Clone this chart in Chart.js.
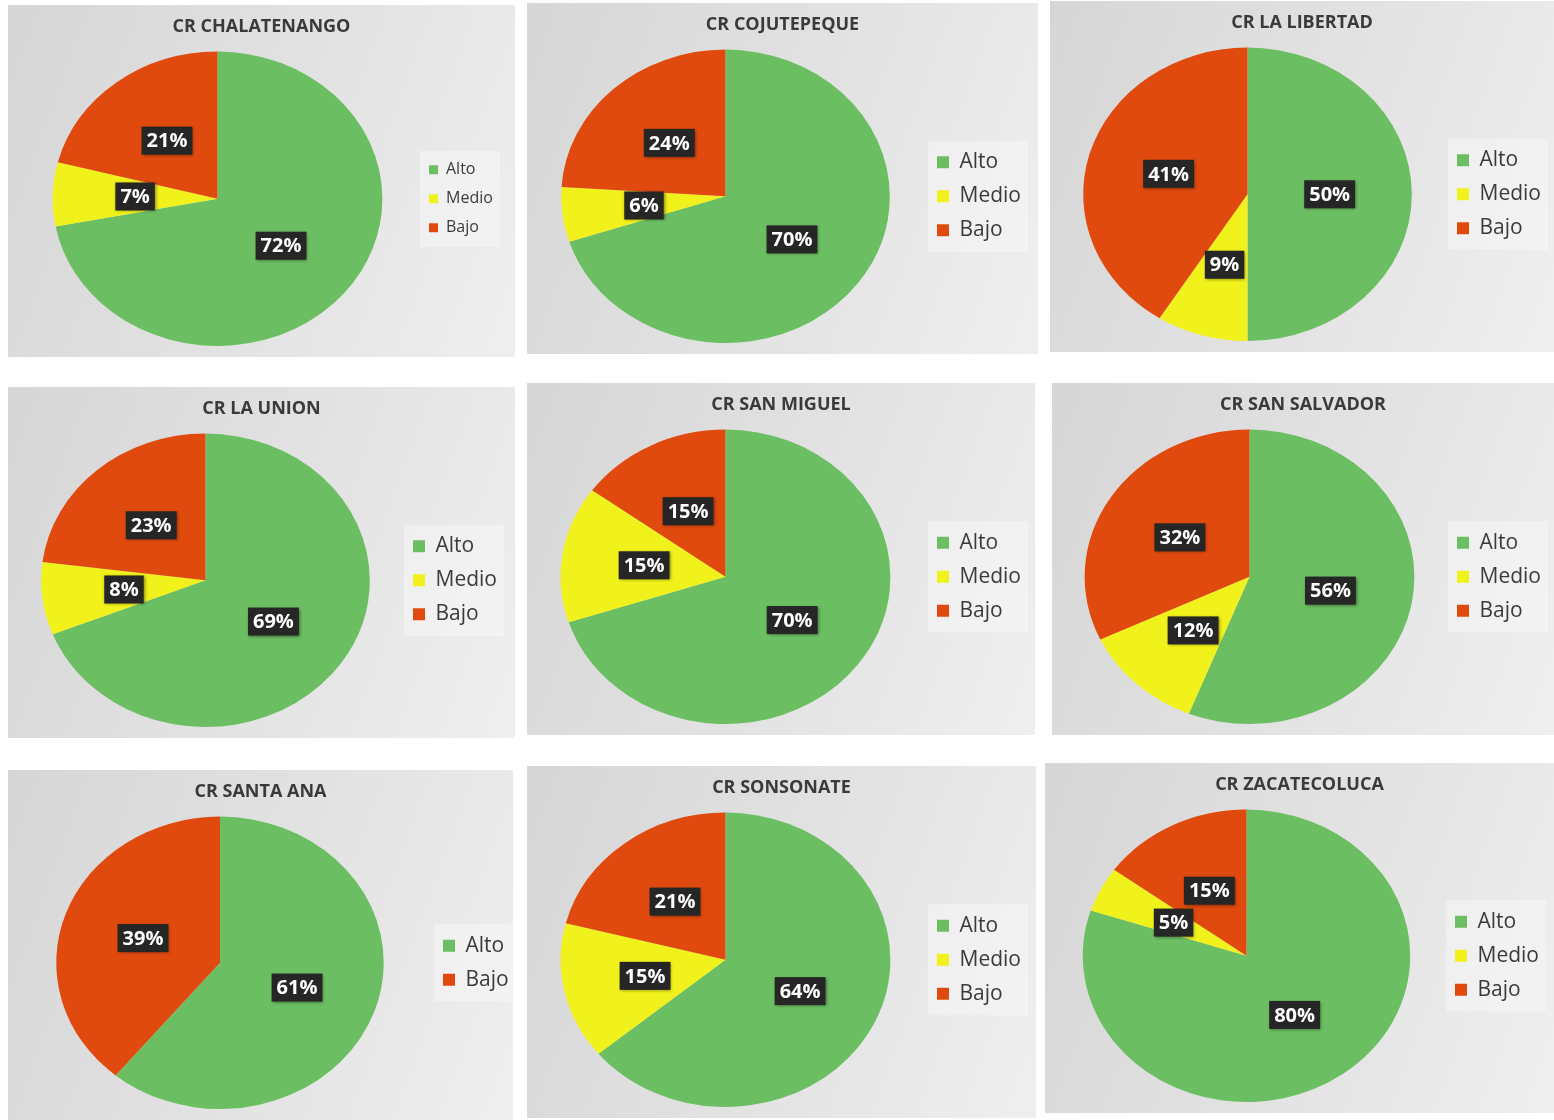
<!DOCTYPE html>
<html>
<head>
<meta charset="utf-8">
<script src="https://cdn.jsdelivr.net/npm/chart.js@4.4.1/dist/chart.umd.min.js"></script>
<style>
  body { margin: 0; background: #ffffff; width: 1554px; height: 1120px; position: relative; overflow: hidden; }
  .panel { position: absolute; background: linear-gradient(110deg, #d6d6d6 0%, #e3e3e3 55%, #efefef 100%); }
  canvas { display: block; }
</style>
</head>
<body>
<script>
// Data (percent per centro regional)
const titles = ['CR CHALATENANGO', 'CR COJUTEPEQUE', 'CR LA LIBERTAD',
                'CR LA UNION', 'CR SAN MIGUEL', 'CR SAN SALVADOR',
                'CR SANTA ANA', 'CR SONSONATE', 'CR ZACATECOLUCA'];
const categories = ['Alto', 'Medio', 'Bajo'];
const alto  = [72, 70, 50, 69, 70, 56, 61, 64, 80];
const medio = [7, 6, 9, 8, 15, 12, null, 15, 5];
const bajo  = [21, 24, 41, 23, 15, 32, 39, 21, 15];

// Custom colors
const green = '#6cbe62';
const yellow = '#f1f11b';
const red = '#e04a0e';
const sliceColors = [green, yellow, red];
const textGray = '#3a3a3a';
const font = 'Open Sans';

// Panel placement: [left, top, width, height, padLeft, padRight, legendFontSize]
const panels = [
  [8, 5, 507, 352, 11, 59, 16],
  [527, 3, 511, 351, 0, 74, 21],
  [1050, 1, 504, 351, 1, 70, 21],
  [8, 387, 507, 351, 3, 75, 21],
  [527, 383, 508, 352, 0, 71, 21],
  [1052, 383, 502, 352, 3, 70, 21],
  [8, 770, 505, 350, 2, 43, 21],
  [527, 766, 509, 352, 0, 72, 21],
  [1045, 763, 509, 350, 6, 72, 21]
];

// pies in the scan are a bit wider than tall
const stretchX = 1.12;

// OVAL PIE + DATA LABELS
const ovalPie = {
  id: 'ovalPie',
  beforeDatasetsDraw(chart) {
    const arc = chart.getDatasetMeta(0).data[0];
    const ctx = chart.ctx;
    ctx.save();
    ctx.translate(arc.x, arc.y);
    ctx.scale(stretchX, 1);
    ctx.translate(-arc.x, -arc.y);
  },
  afterDatasetsDraw(chart) {
    const ctx = chart.ctx;
    ctx.restore();
    const meta = chart.getDatasetMeta(0);
    const values = chart.data.datasets[0].data;
    ctx.save();
    ctx.font = 'bold 20px "' + font + '"';
    ctx.textAlign = 'center';
    ctx.textBaseline = 'middle';
    meta.data.forEach((arc, i) => {
      const pos = arc.tooltipPosition();
      const x = arc.x + (pos.x - arc.x) * stretchX;
      const y = pos.y;
      const text = values[i] + '%';
      const w = ctx.measureText(text).width + 10;
      const h = 28;
      ctx.shadowColor = 'rgba(0,0,0,0.45)';
      ctx.shadowBlur = 3;
      ctx.shadowOffsetX = 1;
      ctx.shadowOffsetY = 1;
      ctx.fillStyle = '#262626';
      ctx.fillRect(x - w / 2, y - h / 2, w, h);
      ctx.shadowColor = 'transparent';
      ctx.fillStyle = '#ffffff';
      ctx.fillText(text, x, y + 1);
    });
    ctx.restore();
  }
};

// light box behind the legend
const legendBack = {
  id: 'legendBack',
  beforeDraw(chart) {
    const boxes = chart.legend && chart.legend.legendHitBoxes;
    if (!boxes || !boxes.length) return;
    const l = Math.min(...boxes.map(b => b.left)) - 9;
    const t = Math.min(...boxes.map(b => b.top)) - 11;
    const r = Math.max(...boxes.map(b => b.left + b.width)) + 7;
    const btm = Math.max(...boxes.map(b => b.top + b.height)) + 11;
    const ctx = chart.ctx;
    ctx.save();
    ctx.fillStyle = 'rgba(255,255,255,0.35)';
    ctx.fillRect(l, t, r - l, btm - t);
    ctx.restore();
  }
};

// title centred on the whole panel; legend allowed to draw past its narrow slot
const layoutFix = {
  id: 'layoutFix',
  afterLayout(chart) {
    const t = chart.titleBlock;
    if (t) {
      t.left = 0;
      t.right = chart.width;
      t.width = chart.width;
    }
    const lg = chart.legend;
    if (lg) {
      lg.right = chart.width;
      lg.width = lg.right - lg.left;
    }
  }
};

titles.forEach((title, i) => {
  const [left, top, w, h, padL, padR, legFont] = panels[i];
  const div = document.createElement('div');
  div.className = 'panel';
  div.style.cssText = `left:${left}px;top:${top}px;width:${w}px;height:${h}px`;
  const canvas = document.createElement('canvas');
  canvas.width = w;
  canvas.height = h;
  div.appendChild(canvas);
  document.body.appendChild(div);

  const cats = [];
  const vals = [];
  const cols = [];
  [alto[i], medio[i], bajo[i]].forEach((v, k) => {
    if (v === null) return;
    cats.push(categories[k]);
    vals.push(v);
    cols.push(sliceColors[k]);
  });

  const box = Math.round(legFont * 0.58);

  new Chart(canvas, {
    type: 'pie',
    data: {
      labels: cats,
      datasets: [{
        data: vals,
        backgroundColor: cols,
        borderWidth: 0
      }]
    },
    options: {
      responsive: false,
      animation: false,
      layout: {
        padding: { top: 2, bottom: 11, left: padL, right: padR }
      },
      plugins: {
        title: {
          display: true,
          text: title,
          color: textGray,
          font: { family: font, size: 18, weight: 'bold' },
          padding: { top: 9, bottom: 14 }
        },
        legend: {
          position: 'right',
          fullSize: false,
          maxWidth: 40,
          labels: {
            color: textGray,
            boxWidth: box,
            boxHeight: box,
            padding: 13,
            font: { family: font, size: legFont }
          }
        },
        tooltip: { enabled: false }
      }
    },
    plugins: [legendBack, layoutFix, ovalPie]
  });
});
</script>
</body>
</html>
